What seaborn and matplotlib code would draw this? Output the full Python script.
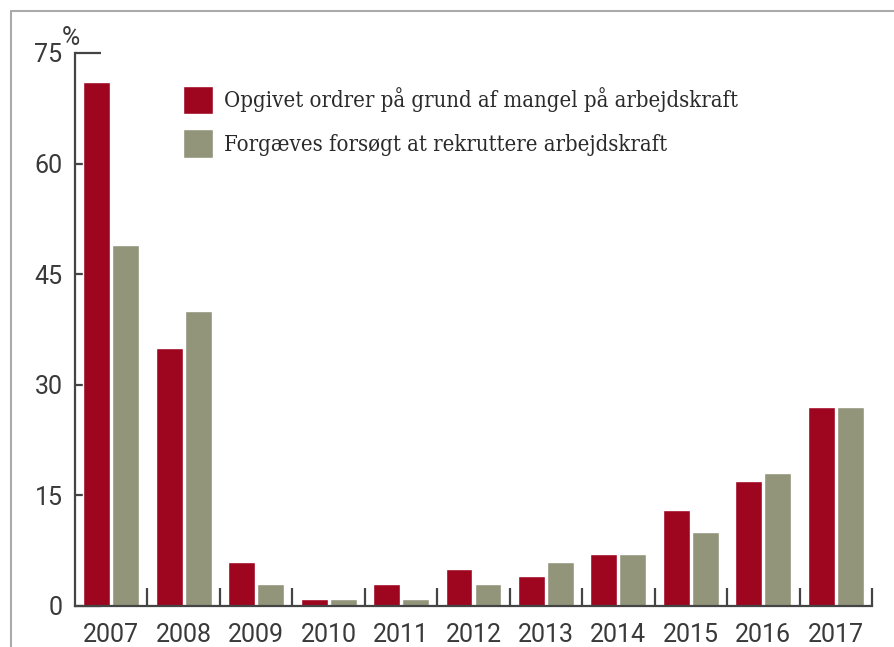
import seaborn as sns
import matplotlib.pyplot as plt
import pandas as pd
from matplotlib.lines import Line2D
from matplotlib.ticker import FixedLocator

# data
years = ["2007", "2008", "2009", "2010", "2011", "2012", "2013", "2014", "2015", "2016", "2017"]
opgivet = [71, 35, 6, 1, 3, 5, 4, 7, 13, 17, 27]
forgaeves = [49, 40, 3, 1, 1, 3, 6, 7, 10, 18, 27]
series_names = ["Opgivet ordrer på grund af mangel på arbejdskraft",
                "Forgæves forsøgt at rekruttere arbejdskraft"]
colors = ["#9E0620", "#93957A"]

df = pd.DataFrame({
    "year": years * 2,
    "value": opgivet + forgaeves,
    "serie": [series_names[0]] * len(years) + [series_names[1]] * len(years),
})

sns.set_theme(style="white")
plt.rcParams["font.family"] = ["Roboto", "DejaVu Sans"]

fig = plt.figure(figsize=(8.95, 6.47), dpi=100)
ax = fig.add_axes([0.0838, 0.0634, 0.8905, 0.8547])

sns.barplot(data=df, x="year", y="value", hue="serie", palette=colors,
            width=0.8, gap=0.07, saturation=1, ax=ax, legend=True)

ax.set_xlim(-0.5, len(years) - 0.5)
ax.set_ylim(0, 75)
ax.set_yticks([0, 15, 30, 45, 60, 75])
ax.set_xlabel("")
ax.set_ylabel("")

for s in ["top", "right"]:
    ax.spines[s].set_visible(False)
for s in ["left", "bottom"]:
    ax.spines[s].set_color("#444444")
    ax.spines[s].set_linewidth(1.6)

txt = "#3a3a3a"
ax.tick_params(axis="y", direction="in", length=19, width=1.6, color="#444444",
               labelsize=18, labelcolor=txt, pad=9, left=True)
ax.tick_params(axis="x", which="major", length=0, labelsize=18,
               labelcolor=txt, pad=12)
ax.xaxis.set_minor_locator(FixedLocator([i + 0.5 for i in range(len(years))]))
ax.tick_params(axis="x", which="minor", direction="in", length=13, width=1.6,
               color="#444444", bottom=True)

ax.text(-0.005, 1.005, "%", transform=ax.transAxes, fontsize=18,
        color=txt, ha="center", va="bottom")

leg = ax.legend(loc="upper left", bbox_to_anchor=(0.125, 0.9566), frameon=False,
                handlelength=1.35, handleheight=1.6, handletextpad=0.5,
                labelspacing=0.7, borderaxespad=0,
                prop={"family": ["DejaVu Serif"], "stretch": "condensed", "size": 15.8})
for t in leg.get_texts():
    t.set_color("#2a2a2a")

# light frame around the chart (top and left)
fig.add_artist(Line2D([11 / 895, 1], [1 - 11 / 647, 1 - 11 / 647],
                      transform=fig.transFigure, color="#aaaaaa", lw=1.5))
fig.add_artist(Line2D([11 / 895, 11 / 895], [0, 1 - 11 / 647],
                      transform=fig.transFigure, color="#aaaaaa", lw=1.5))

fig.savefig("out.png", dpi=100)
